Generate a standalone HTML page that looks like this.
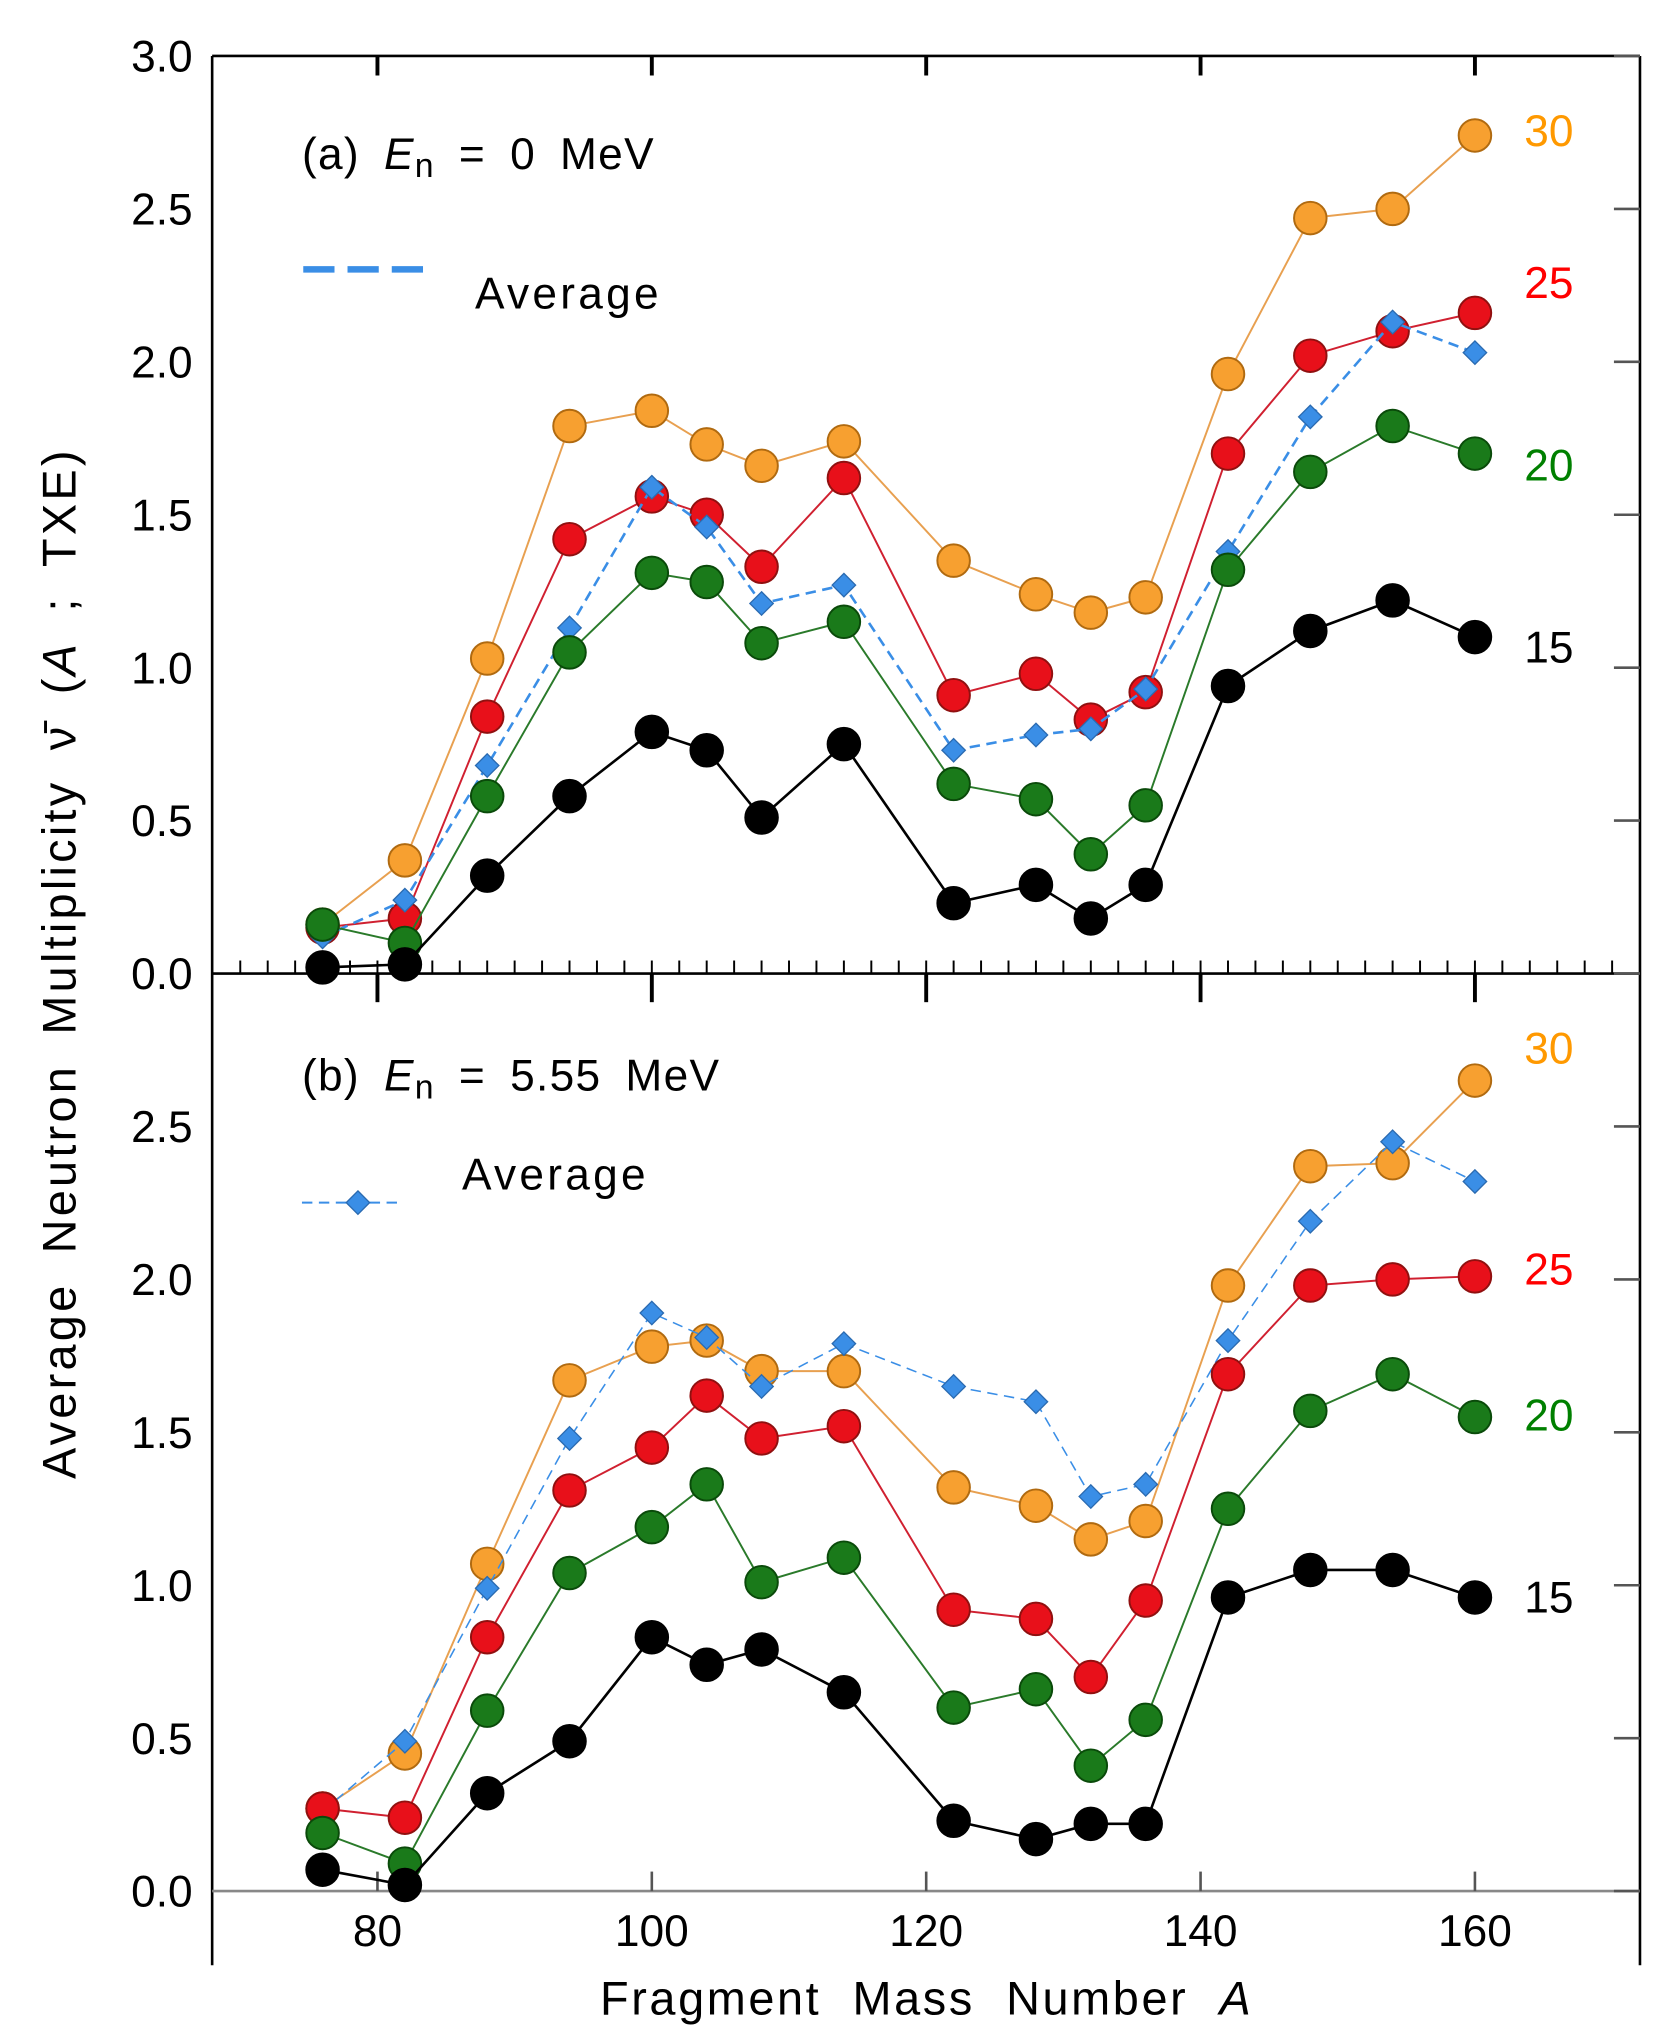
<!DOCTYPE html>
<html><head><meta charset="utf-8"><style>
html,body{margin:0;padding:0;background:#fff;}
svg{display:block;font-family:"Liberation Sans",sans-serif;}
</style></head><body>
<svg id="chart" width="1666" height="2040" viewBox="0 0 1280 1567.4" preserveAspectRatio="none" xmlns="http://www.w3.org/2000/svg">
<g id="frame" stroke="#000" stroke-width="2" fill="none">
<line x1="163" y1="43" x2="1260" y2="43"/>
<line x1="163" y1="43" x2="163" y2="1510"/>
<line x1="1260" y1="43" x2="1260" y2="1510"/>
<line x1="163" y1="748" x2="1260" y2="748"/>
<line x1="163" y1="1453" x2="1260" y2="1453" stroke="#888"/>
</g>
<g id="axes"></g>
<g id="marks"></g>
<g id="texts" font-size="34">
<text x="232" y="130" letter-spacing="1" word-spacing="8">(a) <tspan font-style="italic">E</tspan><tspan font-size="26" dy="6">n</tspan><tspan dy="-6"> = 0 MeV</tspan></text>
<line x1="233" y1="207" x2="325" y2="207" stroke="#3a8ee6" stroke-width="5" stroke-dasharray="24,10"/>
<text x="365" y="237" letter-spacing="2.5">Average</text>
<text x="232" y="838" letter-spacing="1" word-spacing="8">(b) <tspan font-style="italic">E</tspan><tspan font-size="26" dy="6">n</tspan><tspan dy="-6"> = 5.55 MeV</tspan></text>
<line x1="232" y1="924" x2="305" y2="924" stroke="#3a8ee6" stroke-width="1.5" stroke-dasharray="8,5"/>
<path d="M275 915 L284 924 L275 933 L266 924Z" fill="#3a8ee6" stroke="#2a6ab0"/>
<text x="355" y="914" letter-spacing="2.5">Average</text>
<text x="712" y="1548" text-anchor="middle" font-size="36" letter-spacing="2" word-spacing="12">Fragment Mass Number <tspan font-style="italic">A</tspan></text>
<text transform="translate(58,740) rotate(-90)" text-anchor="middle" font-size="36" letter-spacing="2.5" word-spacing="10">Average Neutron Multiplicity ν̄ (<tspan font-style="italic">A</tspan> ; TXE)</text>
</g>
<script>
const xs=[76,82,88,94,100,104,108,114,122,128,132,136,142,148,154,160];
const a30=[0.16,0.37,1.03,1.79,1.84,1.73,1.66,1.74,1.35,1.24,1.18,1.23,1.96,2.47,2.50,2.74];
const a25=[0.15,0.18,0.84,1.42,1.56,1.50,1.33,1.62,0.91,0.98,0.83,0.92,1.70,2.02,2.10,2.16];
const aAvg=[0.12,0.24,0.68,1.13,1.59,1.46,1.21,1.27,0.73,0.78,0.80,0.93,1.38,1.82,2.13,2.03];
const a20=[0.16,0.10,0.58,1.05,1.31,1.28,1.08,1.15,0.62,0.57,0.39,0.55,1.32,1.64,1.79,1.70];
const a15=[0.02,0.03,0.32,0.58,0.79,0.73,0.51,0.75,0.23,0.29,0.18,0.29,0.94,1.12,1.22,1.10];
const b30=[0.27,0.45,1.07,1.67,1.78,1.80,1.70,1.70,1.32,1.26,1.15,1.21,1.98,2.37,2.38,2.65];
const b25=[0.27,0.24,0.83,1.31,1.45,1.62,1.48,1.52,0.92,0.89,0.70,0.95,1.69,1.98,2.00,2.01];
const bAvg=[0.26,0.49,0.99,1.48,1.89,1.81,1.65,1.79,1.65,1.60,1.29,1.33,1.80,2.19,2.45,2.32];
const b20=[0.19,0.09,0.59,1.04,1.19,1.33,1.01,1.09,0.60,0.66,0.41,0.56,1.25,1.57,1.69,1.55];
const b15=[0.07,0.02,0.32,0.49,0.83,0.74,0.79,0.65,0.23,0.17,0.22,0.22,0.96,1.05,1.05,0.96];
const xTicks=[80,100,120,140,160];
const yTicksA=["0.0","0.5","1.0","1.5","2.0","2.5","3.0"];
const yTicksB=["0.0","0.5","1.0","1.5","2.0","2.5"];
const seriesLabels=["30","25","20","15"];

const NS="http://www.w3.org/2000/svg";
const X=a=>290+(a-80)*10.54;
const YA=v=>748-235*v;
const YB=v=>1453-235*v;
function mk(tag,attrs,parent){const e=document.createElementNS(NS,tag);for(const k in attrs)e.setAttribute(k,attrs[k]);parent.appendChild(e);return e;}
const axes=document.getElementById('axes');
const marks=document.getElementById('marks');
const texts=document.getElementById('texts');

xTicks.forEach(t=>{
  let l=mk('line',{x1:X(t),y1:43,x2:X(t),y2:58,stroke:'#000','stroke-width':3},axes);
  
  
  let l2=mk('line',{x1:X(t),y1:748,x2:X(t),y2:770,stroke:'#000','stroke-width':3},axes);
  
  
  let l3=mk('line',{x1:X(t),y1:1453,x2:X(t),y2:1438,stroke:'#555','stroke-width':2},axes);
  
  
  let tx=mk('text',{x:X(t),y:1495,'font-size':34,'text-anchor':'middle'},axes);
  tx.textContent=t;
  
  
});
for(let a=70;a<=171;a+=2){
  let m=mk('line',{x1:X(a),y1:748,x2:X(a),y2:738,stroke:'#000','stroke-width':1.5},axes);
  
  
}
yTicksA.forEach(s=>{
  const v=parseFloat(s);
  let tx=mk('text',{x:148,y:YA(v)+12,'font-size':34,'text-anchor':'end'},axes);
  tx.textContent=s;
  
  
  let l=mk('line',{x1:1240,y1:YA(v),x2:1260,y2:YA(v),stroke:'#555','stroke-width':2},axes);
  
  
});
yTicksB.forEach(s=>{
  const v=parseFloat(s);
  let tx=mk('text',{x:148,y:YB(v)+12,'font-size':34,'text-anchor':'end'},axes);
  tx.textContent=s;
  
  
  let l=mk('line',{x1:1240,y1:YB(v),x2:1260,y2:YB(v),stroke:'#555','stroke-width':2},axes);
  
  
});

function circles(vals,Y,fill,stroke,line,name,lw){
  const g=mk('g',{},marks);
  
  
  mk('polyline',{points:xs.map((a,i)=>X(a)+','+Y(vals[i])).join(' '),fill:'none',stroke:line,'stroke-width':lw},g);
  xs.forEach((a,i)=>{
    const c=mk('circle',{cx:X(a),cy:Y(vals[i]),r:12.5,fill:fill,stroke:stroke,'stroke-width':1.5},g);
    
    
  });
}
function diamonds(vals,Y,name,dash,lw){
  const g=mk('g',{},marks);
  
  
  mk('polyline',{points:xs.map((a,i)=>X(a)+','+Y(vals[i])).join(' '),fill:'none',stroke:'#3a8ee6','stroke-width':lw,'stroke-dasharray':dash},g);
  xs.forEach((a,i)=>{
    const x=X(a),y=Y(vals[i]);
    const d=mk('path',{d:`M${x} ${y-9}L${x+9} ${y}L${x} ${y+9}L${x-9} ${y}Z`,fill:'#3a8ee6',stroke:'#2a6ab0','stroke-width':1},g);
    
    
  });
}
const OR=['#f7a030','#b06a10','#e8a050'],RD=['#e8101a','#901010','#d02030'],GR=['#1a7a1a','#0a4a0a','#2a7a2a'],BK=['#000','#000','#000'];
circles(a30,YA,...OR,'a-series-30',1.5);
circles(a25,YA,...RD,'a-series-25',1.5);
diamonds(aAvg,YA,'a-average','8,5',2);
circles(a20,YA,...GR,'a-series-20',1.5);
circles(a15,YA,...BK,'a-series-15',2);
circles(b30,YB,...OR,'b-series-30',1.5);
diamonds(bAvg,YB,'b-average','8,5',1.2);
circles(b25,YB,...RD,'b-series-25',1.5);
circles(b20,YB,...GR,'b-series-20',1.5);
circles(b15,YB,...BK,'b-series-15',2);

const labCol=['#ff9900','#ff0000','#008000','#000'];
const labYA=[100,217,357,497], labYB=[805,975,1087,1227];
seriesLabels.forEach((s,i)=>{
  let t=mk('text',{x:1190,y:labYA[i]+12,'font-size':34,'text-anchor':'middle',fill:labCol[i]},texts);
  t.textContent=s;
  
  
  let t2=mk('text',{x:1190,y:labYB[i]+12,'font-size':34,'text-anchor':'middle',fill:labCol[i]},texts);
  t2.textContent=s;
  
  
});
</script>
</svg>
</body></html>
